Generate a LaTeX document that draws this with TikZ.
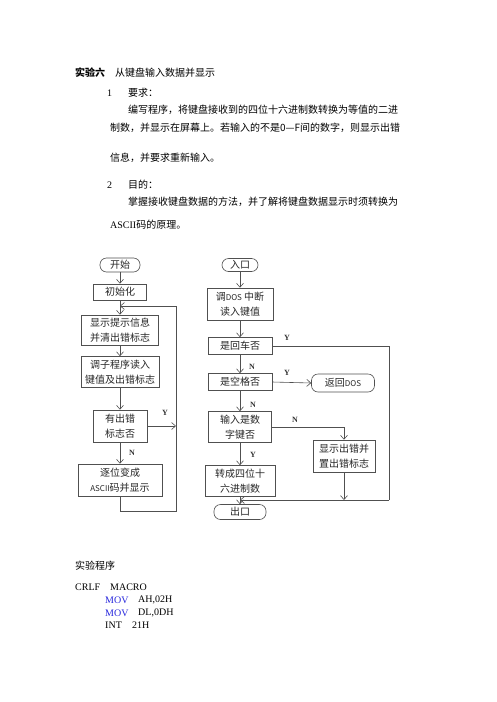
\documentclass[tikz,border=0pt]{standalone}
\usepackage{fontspec}
\setmainfont{Liberation Serif}
\newfontfamily\cjk{Noto Sans CJK SC}
\usetikzlibrary{arrows.meta}
\definecolor{lineclr}{RGB}{80,80,80}
\definecolor{movblue}{RGB}{40,40,220}
\begin{document}
\begin{tikzpicture}[x=1pt,y=-1pt,
  fbox/.style={draw=lineclr, line width=0.6pt, inner sep=0pt, align=center,
    font=\cjk\fontsize{10}{15}\selectfont, text=black!85},
  term/.style={fbox, rounded corners=6.5pt},
  arr/.style={draw=lineclr, line width=0.6pt, -{Straight Barb[length=4pt,width=7pt]}},
  ln/.style={draw=lineclr, line width=0.6pt},
  yn/.style={font=\fontsize{8}{9}\selectfont\bfseries, text=black!80, inner sep=0pt},
  para/.style={anchor=west, inner sep=0pt, font=\cjk\fontsize{10}{12}\selectfont},
  code/.style={anchor=west, inner sep=0pt, font=\fontsize{10}{12}\selectfont}
]
\useasboundingbox (0,0) rectangle (496,702);

% ---------- text ----------
\node[para] (h1) at (75,73) {\bfseries 实验六};
\node[para] (h2) at (115,73) {从键盘输入数据并显示};
\node[para] (n1) at (107,93) {\fontspec{Liberation Serif}1};
\node[para] (n1t) at (128,93) {要求：};
\node[para] (p1) at (128,110) {编写程序，将键盘接收到的四位十六进制数转换为等值的二进};
\node[para] (p2) at (110,128) {制数，并显示在屏幕上。若输入的不是0—F间的数字，则显示出错};
\node[para] (p3) at (110,158) {信息，并要求重新输入。};
\node[para] (n2) at (107,185) {\fontspec{Liberation Serif}2};
\node[para] (n2t) at (128,185) {目的：};
\node[para] (p4) at (128,202) {掌握接收键盘数据的方法，并了解将键盘数据显示时须转换为};
\node[para] (p5) at (110,225) {{\fontspec{Liberation Serif}ASCII}码的原理。};

\node[para] (prg) at (75,566) {实验程序};
\node[code] (c1a) at (75,587) {CRLF};
\node[code] (c1b) at (110,587) {MACRO};
\node[code, text=movblue] (c2a) at (105,600) {MOV};
\node[code] (c2b) at (138,600) {AH,02H};
\node[code, text=movblue] (c3a) at (105,613) {MOV};
\node[code] (c3b) at (138,613) {DL,0DH};
\node[code] (c4a) at (105,625) {INT};
\node[code] (c4b) at (132,625) {21H};

% ---------- left flowchart ----------
\node[term, minimum width=40pt, minimum height=14pt] (b0) at (120,265) {开始};
\node[fbox, minimum width=53pt, minimum height=16pt] (b1) at (120,292) {初始化};
\node[fbox, minimum width=77pt, minimum height=30pt] (b2) at (120,330) {显示提示信息\\并清出错标志};
\node[fbox, minimum width=78pt, minimum height=31pt] (b3) at (120,372) {调子程序读入\\键值及出错标志};
\node[fbox, minimum width=54pt, minimum height=32pt] (b4) at (120,426) {有出错\\标志否};
\node[fbox, minimum width=84pt, minimum height=32pt] (b5) at (120,480) {逐位变成\\{\fontsize{8}{9}\selectfont ASCII}码并显示};

\coordinate (lj) at (120,306);
\coordinate (lt) at (176,306);
\coordinate (lr) at (176,511);

\draw[arr] (b0) -- (b1);
\draw[arr] (b1) -- (b2);
\draw[arr] (b2) -- (b3);
\draw[arr] (b3) -- (b4);
\draw[arr] (b4) -- (b5);
\draw[arr] (b5.south) |- (lr) -- (lt) -- (lj);
\draw[arr] (b4.east) -- (b4.east -| lr);
\node[yn] (ly) at (165,413) {Y};
\node[yn] (ln) at (132,453) {N};

% ---------- right flowchart ----------
\node[term, minimum width=36pt, minimum height=13pt] (r0) at (240,265) {入口};
\node[fbox, minimum width=66pt, minimum height=32pt] (r1) at (240,304) {调{\fontsize{8}{9}\selectfont DOS} 中断\\读入键值};
\node[fbox, minimum width=64pt, minimum height=17pt] (r2) at (240,346) {是回车否};
\node[fbox, minimum width=64pt, minimum height=17pt] (r3) at (240,382) {是空格否};
\node[fbox, minimum width=63pt, minimum height=31pt] (r4) at (240,427) {输入是数\\字键否};
\node[fbox, minimum width=70pt, minimum height=31pt] (r5) at (240,481) {转成四位十\\六进制数};
\node[term, minimum width=52pt, minimum height=15pt] (r6) at (240,512) {出口};
\node[term, minimum width=63pt, minimum height=18pt] (ret) at (343,383) {返回{\fontsize{8}{9}\selectfont DOS}};
\node[fbox, minimum width=62pt, minimum height=32pt] (err) at (344,456) {显示出错并\\置出错标志};

\coordinate (rt) at (389,346);
\coordinate (rb) at (389,500);
\coordinate (rj) at (240,500);

\draw[arr] (r0) -- (r1);
\draw[arr] (r1) -- (r2);
\draw[arr] (r2) -- (r3);
\draw[arr] (r3) -- (r4);
\draw[arr] (r4) -- (r5);
\draw[arr] (r5) -- (r6);
\draw[ln] (r2.east) -- (rt) -- (rb);
\draw[arr] (rb) -- (rj);
\draw[arr] (r3.east) -- (ret.west);
\draw[arr] (r4.east) -| (err.north);
\draw[arr] (err.south) -- (err.south |- rb);

\node[yn] (ry1) at (287,338) {Y};
\node[yn] (rn1) at (252,367) {N};
\node[yn] (ry2) at (287,373) {Y};
\node[yn] (rn2) at (253,405) {N};
\node[yn] (rn3) at (295,420) {N};
\node[yn] (ry3) at (253,455) {Y};
\end{tikzpicture}
\end{document}
